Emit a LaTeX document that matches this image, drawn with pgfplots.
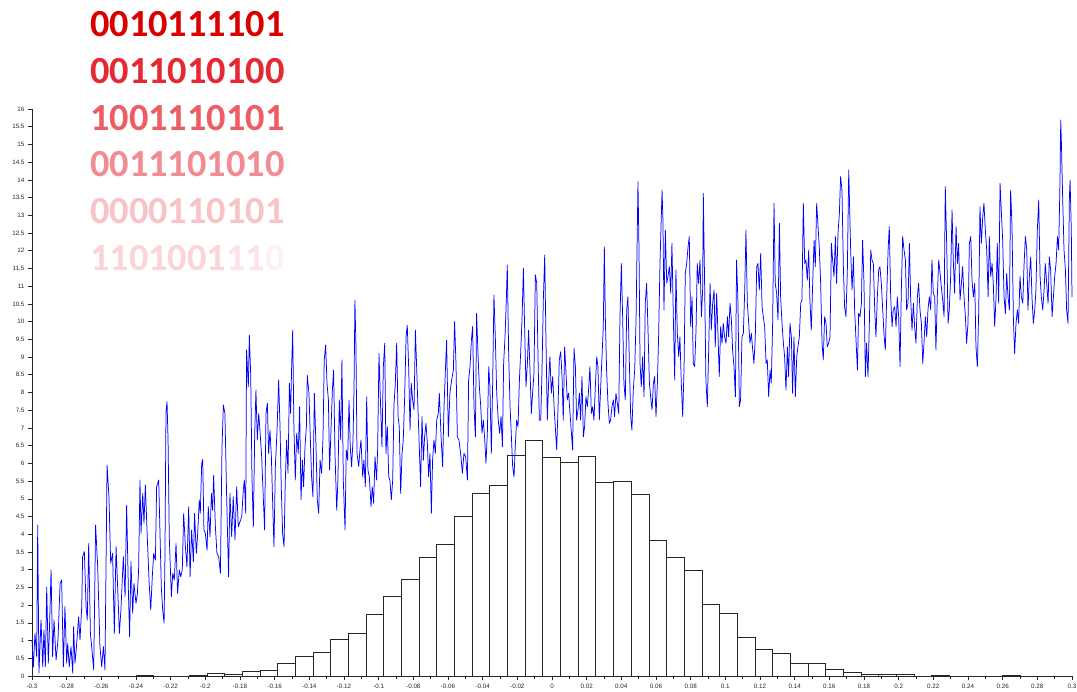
\documentclass[border=0pt]{standalone}
\usepackage{pgfplots}
\pgfplotsset{compat=1.18}
\usepackage{fontspec}
\setmainfont{Liberation Sans}
\newfontfamily\carlito{Carlito}
\definecolor{rA}{RGB}{218,0,0}
\definecolor{rB}{RGB}{230,40,50}
\definecolor{rC}{RGB}{238,92,100}
\definecolor{rD}{RGB}{242,140,146}
\definecolor{rE}{RGB}{248,195,198}
\definecolor{rF}{RGB}{250,212,215}
\definecolor{rG}{RGB}{252,228,230}
\definecolor{rH}{RGB}{254,240,241}
\begin{document}
\begin{tikzpicture}
\useasboundingbox (0,0) rectangle (1077bp,692bp);
\begin{axis}[
  at={(32bp,16bp)}, anchor=south west,
  scale only axis, width=1040bp, height=567bp,
  xmin=-0.3, xmax=0.3, ymin=0, ymax=16,
  axis x line*=bottom, axis y line*=left,
  axis line style={black!85, line width=0.8pt},
  xtick={-0.3,-0.28,-0.26,-0.24,-0.22,-0.2,-0.18,-0.16,-0.14,-0.12,-0.1,-0.08,-0.06,-0.04,-0.02,0,0.02,0.04,0.06,0.08,0.1,0.12,0.14,0.16,0.18,0.2,0.22,0.24,0.26,0.28,0.3},
  xticklabels={-0.3,-0.28,-0.26,-0.24,-0.22,-0.2,-0.18,-0.16,-0.14,-0.12,-0.1,-0.08,-0.06,-0.04,-0.02,0,0.02,0.04,0.06,0.08,0.1,0.12,0.14,0.16,0.18,0.2,0.22,0.24,0.26,0.28,0.3},
  minor xtick={-0.29,-0.27,-0.25,-0.23,-0.21,-0.19,-0.17,-0.15,-0.13,-0.11,-0.09,-0.07,-0.05,-0.03,-0.01,0.01,0.03,0.05,0.07,0.09,0.11,0.13,0.15,0.17,0.19,0.21,0.23,0.25,0.27,0.29},
  ytick={0,0.5,1,1.5,2,2.5,3,3.5,4,4.5,5,5.5,6,6.5,7,7.5,8,8.5,9,9.5,10,10.5,11,11.5,12,12.5,13,13.5,14,14.5,15,15.5,16},
  yticklabels={0,0.5,1,1.5,2,2.5,3,3.5,4,4.5,5,5.5,6,6.5,7,7.5,8,8.5,9,9.5,10,10.5,11,11.5,12,12.5,13,13.5,14,14.5,15,15.5,16},
  tick align=outside, major tick length=4bp, minor tick length=2.5bp,
  tick style={black!85, line width=0.6pt},
  ticklabel style={font=\fontsize{6.3}{7}\selectfont, text=black!85},
  xticklabel style={yshift=-1bp},
  clip=false,
]
\addplot[ybar interval, fill=white, draw=black!85, line width=0.75pt] coordinates {
(-0.2399,0.02)(-0.2297,0)(-0.2195,0)(-0.2093,0.02)(-0.1991,0.08)(-0.1889,0.05)(-0.1787,0.14)(-0.1685,0.17)
(-0.1583,0.35)(-0.1481,0.54)(-0.1379,0.67)(-0.1277,1.03)(-0.1175,1.20)(-0.1073,1.73)(-0.0971,2.26)(-0.0869,2.73)
(-0.0767,3.35)(-0.0665,3.72)(-0.0563,4.50)(-0.0461,5.16)(-0.0359,5.39)(-0.0257,6.23)(-0.0155,6.65)(-0.0053,6.18)
(0.0049,6.03)(0.0151,6.20)(0.0253,5.47)(0.0355,5.50)(0.0457,5.13)(0.0559,3.82)(0.0661,3.35)(0.0763,2.97)
(0.0865,2.02)(0.0967,1.78)(0.1069,1.09)(0.1171,0.74)(0.1273,0.64)(0.1375,0.37)(0.1477,0.35)(0.1579,0.19)
(0.1681,0.09)(0.1783,0.06)(0.1885,0.05)(0.1987,0.05)(0.2089,0)(0.2191,0.02)(0.2293,0)(0.2395,0)
(0.2497,0)(0.2599,0.02)(0.2701,0)
};
\addplot[blue, line width=0.75pt, line join=round] coordinates {
(-0.3,1.02)(-0.2992,0.26)(-0.2983,1.20)(-0.2973,0.55)(-0.2967,4.26)(-0.2960,0.08)(-0.2948,1.58)(-0.2938,0.26)(-0.2931,1.30)(-0.2923,0.26)(-0.2915,2.52)(-0.2906,0.36)(-0.2900,1.20)(-0.2890,2.99)(-0.2881,0.55)(-0.2873,1.58)(-0.2861,0.45)(-0.2850,1.02)(-0.2838,2.61)(-0.2829,2.71)(-0.2819,0.26)(-0.2810,1.96)(-0.2800,0.36)(-0.2794,0.92)(-0.2785,0.26)(-0.2775,0.83)(-0.2765,0.08)(-0.2760,1.39)(-0.2752,0.36)(-0.2742,0.92)(-0.2731,1.67)(-0.2723,1.02)(-0.2713,1.96)(-0.2708,3.37)(-0.2698,3.51)(-0.2688,1.96)(-0.2681,1.58)(-0.2673,3.74)(-0.2663,1.20)(-0.2654,0.73)(-0.2644,0.17)(-0.2633,4.26)(-0.2621,3.08)(-0.2608,0.83)(-0.2598,0.26)(-0.2588,0.83)(-0.2579,0.17)(-0.2573,3.08)(-0.2567,5.95)(-0.2556,5.06)(-0.2546,3.18)(-0.2535,3.46)(-0.2525,1.20)(-0.2515,3.65)(-0.2506,2.52)(-0.2496,1.20)(-0.2487,1.86)(-0.2473,3.37)(-0.2463,2.24)(-0.2454,4.82)(-0.2444,2.43)(-0.2437,1.11)(-0.2429,3.23)(-0.2419,1.77)(-0.2412,2.61)(-0.2400,2.05)(-0.2392,2.33)(-0.2385,2.99)(-0.2377,5.53)(-0.2371,4.03)(-0.2361,5.15)(-0.2354,4.31)(-0.2346,5.39)(-0.2335,3.93)(-0.2325,2.71)(-0.2315,1.86)(-0.2306,2.80)(-0.2298,3.46)(-0.2288,3.27)(-0.2281,5.34)(-0.2269,5.53)(-0.2262,4.12)(-0.2254,2.52)(-0.2246,1.86)(-0.2238,1.49)(-0.2233,3.37)(-0.2227,7.46)(-0.2221,7.74)(-0.2215,6.66)(-0.2208,3.93)(-0.2196,2.24)(-0.2188,2.90)(-0.2179,2.71)(-0.2169,3.74)(-0.2160,2.33)(-0.2150,2.99)(-0.2142,2.80)(-0.2133,2.99)(-0.2125,4.59)(-0.2115,3.65)(-0.2106,3.08)(-0.2096,4.78)(-0.2088,2.80)(-0.2079,4.12)(-0.2069,3.23)(-0.2062,4.59)(-0.2052,3.46)(-0.2044,4.03)(-0.2035,4.97)(-0.2029,4.59)(-0.2021,6.00)(-0.2015,6.11)(-0.2008,4.12)(-0.2000,4.03)(-0.1990,3.55)(-0.1983,4.78)(-0.1973,3.93)(-0.1965,5.15)(-0.1958,4.68)(-0.1952,5.67)(-0.1942,4.21)(-0.1933,3.46)(-0.1923,3.37)(-0.1913,2.90)(-0.1904,6.42)(-0.1896,7.65)(-0.1887,7.41)(-0.1877,5.06)(-0.1866,2.80)(-0.1858,5.15)(-0.1848,3.93)(-0.1839,5.06)(-0.1829,3.84)(-0.1819,5.34)(-0.1810,4.21)
(-0.1790,4.50)(-0.1781,5.25)(-0.1775,5.53)(-0.1767,4.59)(-0.1762,9.20)(-0.1752,8.16)(-0.1746,9.62)(-0.1738,8.45)(-0.1731,5.62)(-0.1723,4.21)(-0.1715,6.85)(-0.1708,8.07)(-0.1700,6.66)(-0.1692,7.41)(-0.1685,6.94)(-0.1675,6.19)(-0.1665,4.97)(-0.1658,4.12)(-0.1650,7.41)(-0.1642,7.69)(-0.1635,6.28)(-0.1627,6.94)(-0.1619,6.19)(-0.1612,4.97)(-0.1604,3.65)(-0.1596,5.91)(-0.1587,6.85)(-0.1577,8.35)(-0.1569,7.03)(-0.1562,5.34)(-0.1554,4.02)(-0.1546,3.65)(-0.1539,5.44)(-0.1531,6.66)(-0.1523,5.72)(-0.1515,8.26)(-0.1508,7.41)(-0.1502,8.73)(-0.1496,9.76)(-0.1489,7.03)(-0.1481,5.53)(-0.1473,6.85)(-0.1464,6.28)(-0.1456,7.60)(-0.1448,4.97)(-0.1440,6.09)(-0.1433,5.34)(-0.1425,6.47)(-0.1417,7.03)(-0.1412,8.49)(-0.1402,7.98)(-0.1394,6.66)(-0.1387,5.62)(-0.1379,5.06)(-0.1371,7.98)(-0.1362,6.56)(-0.1354,4.97)(-0.1346,4.59)(-0.1338,6.09)(-0.1329,5.72)(-0.1321,6.75)(-0.1314,8.92)(-0.1306,9.34)(-0.1298,8.26)(-0.1290,7.79)(-0.1283,5.81)(-0.1275,6.94)(-0.1267,8.07)(-0.1260,8.63)(-0.1252,6.28)(-0.1242,4.68)(-0.1235,5.53)(-0.1227,7.79)(-0.1219,6.66)(-0.1212,8.92)(-0.1204,5.53)(-0.1194,4.12)(-0.1187,6.38)(-0.1179,6.09)(-0.1171,7.79)(-0.1164,6.47)(-0.1156,5.91)(-0.1148,6.66)(-0.1142,8.16)(-0.1137,10.61)(-0.1131,9.29)(-0.1125,6.28)(-0.1115,5.91)(-0.1108,6.38)(-0.1102,6.66)(-0.1092,5.62)(-0.1085,6.09)(-0.1077,5.34)(-0.1069,7.88)(-0.1062,5.81)(-0.1054,5.62)(-0.1044,4.78)(-0.1037,5.34)(-0.1029,4.87)(-0.1021,6.19)(-0.1012,5.53)(-0.1006,6.38)(-0.0998,9.10)(-0.0990,7.79)(-0.0981,6.47)(-0.0973,8.73)(-0.0965,9.39)(-0.0958,6.28)(-0.0950,7.03)(-0.0942,5.62)(-0.0935,5.53)(-0.0927,4.97)(-0.0919,5.53)(-0.0912,7.60)(-0.0904,8.26)(-0.0896,9.39)(-0.0888,7.32)(-0.0881,7.03)(-0.0873,5.15)(-0.0865,6.28)(-0.0858,6.66)(-0.0850,7.88)(-0.0842,9.57)(-0.0835,9.90)(-0.0827,8.73)(-0.0819,6.94)(-0.0812,8.26)(-0.0804,7.79)(-0.0796,7.51)(-0.0788,9.76)(-0.0781,8.73)(-0.0773,7.51)(-0.0765,6.38)(-0.0758,5.34)(-0.0750,7.32)(-0.0742,6.09)(-0.0735,6.75)(-0.0727,7.13)(-0.0719,6.56)(-0.0712,5.62)(-0.0704,6.28)(-0.0696,4.59)(-0.0689,6.09)(-0.0681,6.66)(-0.0673,6.28)(-0.0665,7.22)
(-0.0656,7.41)(-0.0650,7.98)(-0.0640,6.75)(-0.0631,5.91)(-0.0623,7.60)(-0.0615,8.63)(-0.0608,9.48)(-0.0598,6.75)(-0.0589,7.98)(-0.0579,8.35)(-0.0569,8.63)(-0.0562,10.00)(-0.0554,8.82)(-0.0546,6.75)(-0.0537,6.66)(-0.0527,6.28)(-0.0517,5.72)(-0.0508,6.28)(-0.0498,6.19)(-0.0488,5.53)(-0.0481,8.35)(-0.0473,8.73)(-0.0465,9.48)(-0.0458,9.86)(-0.0450,7.60)(-0.0442,6.75)(-0.0435,10.23)(-0.0427,9.10)(-0.0419,8.16)(-0.0411,7.60)(-0.0404,6.85)(-0.0396,7.22)(-0.0388,6.66)(-0.0381,6.00)(-0.0373,6.85)(-0.0365,8.73)(-0.0358,8.16)(-0.0350,6.28)(-0.0342,8.35)(-0.0335,10.75)(-0.0327,9.57)(-0.0319,7.98)(-0.0310,7.22)(-0.0302,6.85)(-0.0294,7.32)(-0.0286,6.47)(-0.0279,8.82)(-0.0271,9.57)(-0.0263,10.70)(-0.0258,11.60)(-0.0250,9.10)(-0.0242,7.60)(-0.0235,6.85)(-0.0227,5.91)(-0.0219,5.62)(-0.0212,6.47)(-0.0204,7.22)(-0.0196,7.03)(-0.0188,8.35)(-0.0181,9.10)(-0.0173,10.05)(-0.0165,11.50)(-0.0158,9.86)(-0.0150,8.16)(-0.0142,8.82)(-0.0135,9.76)(-0.0127,8.63)(-0.0119,7.41)(-0.0112,7.98)(-0.0104,8.54)(-0.0096,11.32)(-0.0088,11.08)(-0.0081,9.10)(-0.0073,7.22)(-0.0065,7.22)(-0.0058,8.54)(-0.0050,10.61)(-0.0042,11.88)(-0.0035,9.57)(-0.0027,7.22)(-0.0019,8.35)(-0.0012,9.01)(-0.0004,7.98)(0.0004,8.45)(0.0012,7.60)(0.0019,7.03)(0.0027,6.38)(0.0035,7.60)(0.0042,8.92)(0.0050,9.15)(0.0058,8.45)(0.0065,7.22)(0.0073,9.29)(0.0081,8.54)(0.0088,7.79)(0.0096,7.98)(0.0104,7.41)(0.0112,6.85)(0.0119,6.38)(0.0127,9.25)(0.0135,8.73)(0.0142,7.22)(0.0150,7.51)(0.0158,7.98)(0.0165,7.22)(0.0173,8.45)(0.0181,6.75)(0.0188,7.03)(0.0196,7.88)(0.0204,7.60)(0.0211,8.07)(0.0219,8.73)(0.0227,7.41)(0.0235,7.60)(0.0242,7.22)(0.0250,8.16)(0.0258,9.01)(0.0265,8.73)(0.0273,7.22)(0.0281,8.16)(0.0288,8.96)(0.0296,9.86)(0.0302,12.11)(0.0308,10.05)(0.0315,8.63)(0.0323,7.69)(0.0331,7.13)(0.0338,7.22)(0.0346,7.60)(0.0354,7.79)(0.0361,7.32)(0.0369,7.98)(0.0377,7.69)(0.0385,7.41)(0.0392,10.05)(0.0400,11.64)(0.0408,10.05)(0.0415,8.26)(0.0423,7.79)(0.0431,10.33)(0.0438,10.70)(0.0446,8.92)(0.0454,7.32)(0.0461,6.94)(0.0469,8.07)(0.0477,8.63)(0.0485,10.05)
(0.0496,13.95)(0.0502,12.02)(0.0508,8.82)(0.0515,8.16)(0.0523,9.01)(0.0531,7.88)(0.0538,10.52)(0.0546,11.08)(0.0554,9.76)(0.0562,8.26)(0.0569,7.88)(0.0577,7.51)(0.0585,8.26)(0.0592,8.45)(0.0600,7.32)(0.0608,8.26)(0.0615,9.57)(0.0623,11.64)(0.0629,12.68)(0.0635,13.71)(0.0640,12.87)(0.0646,10.33)(0.0654,12.58)(0.0662,11.08)(0.0669,11.27)(0.0677,11.55)(0.0685,10.80)(0.0692,12.21)(0.0700,10.14)(0.0708,8.35)(0.0715,11.46)(0.0723,9.67)(0.0731,9.01)(0.0738,9.57)(0.0746,8.26)(0.0754,7.32)(0.0762,8.73)(0.0769,11.36)(0.0777,11.64)(0.0785,12.11)(0.0792,12.40)(0.0800,9.86)(0.0808,10.70)(0.0815,8.82)(0.0823,8.73)(0.0831,9.76)(0.0838,11.64)(0.0846,11.08)(0.0854,11.74)(0.0862,10.14)(0.0869,10.89)(0.0873,13.62)(0.0881,10.89)(0.0888,8.35)(0.0896,7.60)(0.0904,9.20)(0.0912,11.08)(0.0919,9.76)(0.0927,10.52)(0.0935,10.89)(0.0942,9.29)(0.0950,10.80)(0.0958,9.57)(0.0965,8.45)(0.0973,9.86)(0.0981,9.39)(0.0988,9.95)(0.0996,9.57)(0.1004,9.39)(0.1012,10.14)(0.1019,9.57)(0.1027,10.52)(0.1035,10.05)(0.1042,9.20)(0.1050,8.73)(0.1058,7.88)(0.1065,11.74)(0.1073,10.52)(0.1081,7.60)(0.1088,7.79)(0.1096,9.57)(0.1104,9.67)(0.1112,10.89)(0.1119,12.58)(0.1127,10.52)(0.1135,9.95)(0.1142,9.39)(0.1150,9.67)(0.1158,9.20)(0.1165,8.82)(0.1173,9.57)(0.1181,11.55)(0.1188,11.64)(0.1196,10.89)(0.1204,11.93)(0.1212,10.42)(0.1219,10.14)(0.1227,9.86)(0.1235,8.82)(0.1242,8.92)(0.1250,7.88)(0.1258,8.63)(0.1265,8.26)(0.1273,9.95)(0.1281,13.34)(0.1288,11.08)(0.1296,10.80)(0.1304,10.05)(0.1312,12.77)(0.1319,10.70)(0.1327,9.95)(0.1335,9.39)(0.1342,9.01)(0.1350,8.07)(0.1358,9.29)(0.1365,8.45)(0.1373,9.95)(0.1381,9.57)(0.1388,7.98)(0.1396,9.57)(0.1404,7.88)(0.1412,9.01)(0.1419,9.29)(0.1427,9.57)(0.1435,10.52)(0.1442,10.61)(0.1450,13.34)(0.1458,11.64)(0.1465,11.74)(0.1473,11.17)(0.1481,12.02)(0.1488,10.61)(0.1496,9.76)(0.1504,11.08)(0.1512,12.30)(0.1519,11.55)(0.1527,13.34)(0.1535,12.68)(0.1542,12.11)(0.1550,11.08)(0.1558,9.39)(0.1565,8.92)(0.1573,10.14)(0.1581,9.95)(0.1588,9.29)(0.1596,9.39)(0.1604,9.57)(0.1612,12.21)(0.1619,11.74)(0.1627,11.27)(0.1635,12.40)(0.1642,11.08)(0.1650,12.49)(0.1658,13.06)(0.1665,14.09)(0.1673,13.71)(0.1681,11.55)(0.1688,10.42)(0.1696,10.14)(0.1704,11.46)(0.1712,14.28)
(0.1723,12.02)(0.1731,10.89)(0.1739,11.83)(0.1746,10.33)(0.1754,9.48)(0.1762,8.63)(0.1769,10.23)(0.1777,10.14)(0.1785,10.52)(0.1792,12.30)(0.1800,11.08)(0.1808,8.45)(0.1815,9.39)(0.1823,8.45)(0.1831,9.95)(0.1839,12.02)(0.1846,11.74)(0.1854,11.64)(0.1862,10.33)(0.1869,9.57)(0.1877,10.70)(0.1885,11.46)(0.1892,11.55)(0.1900,11.08)(0.1908,10.33)(0.1915,9.67)(0.1923,9.20)(0.1931,10.70)(0.1939,12.02)(0.1946,12.68)(0.1954,10.70)(0.1962,9.86)(0.1969,10.33)(0.1977,10.42)(0.1985,9.86)(0.1992,10.70)(0.2000,10.14)(0.2008,8.73)(0.2015,10.80)(0.2023,12.40)(0.2031,12.02)(0.2039,11.74)(0.2046,10.33)(0.2054,10.52)(0.2062,12.21)(0.2069,10.70)(0.2077,9.76)(0.2085,10.52)(0.2092,9.86)(0.2100,9.39)(0.2108,10.70)(0.2115,11.08)(0.2123,10.33)(0.2131,9.95)(0.2139,8.82)(0.2146,9.39)(0.2154,10.14)(0.2162,9.57)(0.2169,10.33)(0.2177,10.70)(0.2185,10.33)(0.2192,11.74)(0.2200,10.80)(0.2208,10.70)(0.2215,9.20)(0.2223,10.70)(0.2231,11.74)(0.2239,11.36)(0.2246,10.99)(0.2254,10.61)(0.2262,10.14)(0.2269,13.81)(0.2277,12.21)(0.2285,9.95)(0.2292,10.33)(0.2300,11.27)(0.2308,13.15)(0.2315,11.74)(0.2323,10.80)(0.2331,12.68)(0.2339,11.64)(0.2346,12.21)(0.2354,10.61)(0.2362,11.08)(0.2369,11.55)(0.2377,10.70)(0.2385,10.14)(0.2392,9.39)(0.2400,9.95)(0.2408,12.21)(0.2416,12.40)(0.2423,11.17)(0.2431,10.70)(0.2439,11.08)(0.2446,9.29)(0.2454,8.73)(0.2462,10.33)(0.2469,13.24)(0.2477,12.21)(0.2485,12.96)(0.2492,13.34)(0.2500,12.59)(0.2508,12.02)(0.2516,10.70)(0.2523,12.40)(0.2531,11.27)(0.2539,11.64)(0.2546,11.08)(0.2554,9.86)(0.2562,10.70)(0.2569,12.21)(0.2577,10.52)(0.2585,13.90)(0.2592,13.15)(0.2600,12.30)(0.2608,10.70)(0.2616,10.23)(0.2623,11.36)(0.2631,10.70)(0.2639,10.33)(0.2646,13.71)(0.2654,12.68)(0.2662,10.05)(0.2669,9.10)(0.2677,9.95)(0.2685,10.33)(0.2692,9.95)(0.2700,11.27)(0.2708,10.70)(0.2716,10.52)(0.2723,11.55)(0.2731,12.40)(0.2739,12.02)(0.2746,10.33)(0.2754,11.27)(0.2762,11.83)(0.2769,10.70)(0.2777,9.95)(0.2785,10.33)(0.2792,10.89)(0.2800,12.59)(0.2808,13.43)(0.2816,11.27)(0.2823,10.70)(0.2831,10.33)(0.2839,10.89)(0.2846,11.64)(0.2854,11.08)(0.2862,10.52)(0.2869,11.83)(0.2877,11.46)(0.2885,10.14)(0.2893,10.70)(0.2900,11.27)(0.2908,11.64)(0.2916,12.40)(0.2923,12.02)(0.2931,13.99)(0.2935,15.69)(0.2939,15.03)(0.2946,13.52)(0.2954,12.02)(0.2962,11.46)(0.2969,10.33)(0.2977,9.95)(0.2985,13.52)(0.2989,13.99)(0.2996,12.59)(0.3000,10.70)
};
\end{axis}
\begin{scope}[every node/.style={anchor=base west, inner sep=0pt, font=\carlito\bfseries\fontsize{38.5}{40}\selectfont}]
\node[text=rA] at (90bp,655.3bp) {0010111101};
\node[text=rB] at (90bp,608.6bp) {0011010100};
\node[text=rC] at (90bp,561.9bp) {1001110101};
\node[text=rD] at (90bp,515.2bp) {0011101010};
\node[text=rE] at (90bp,468.5bp) {0000110101};
\node at (90bp,421.8bp) {\textcolor{rF}{1101001}\textcolor{rG}{11}\textcolor{rH}{0}};
\end{scope}
\end{tikzpicture}
\end{document}
